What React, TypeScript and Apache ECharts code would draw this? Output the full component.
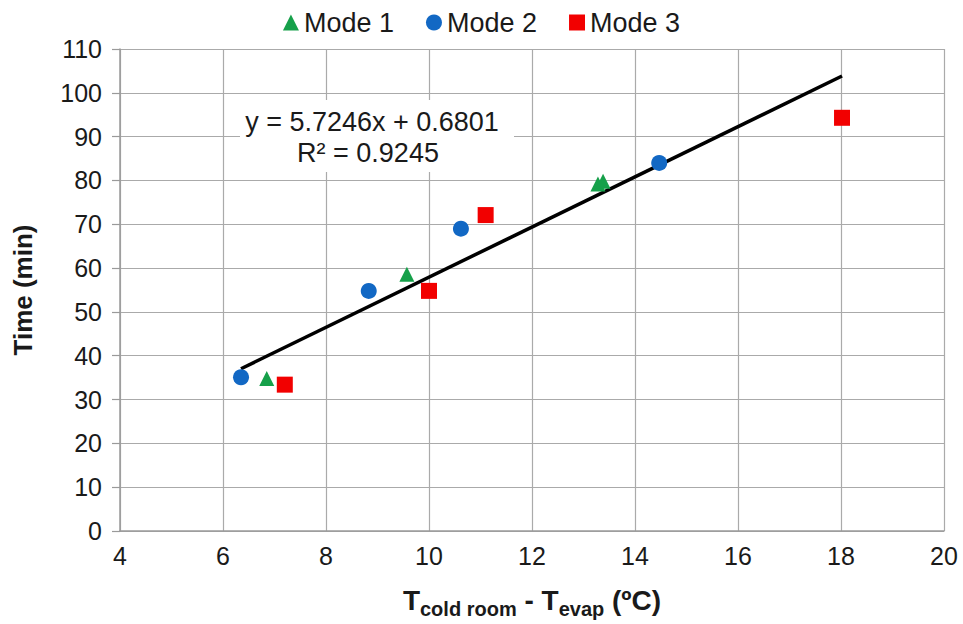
import React, { useEffect, useRef } from "react";
import * as echarts from "echarts";

const mode1X = [6.85, 9.57, 13.28, 13.38];
const mode1Y = [34.8, 58.6, 79.2, 79.8];
const mode2X = [6.35, 8.83, 10.62, 14.47];
const mode2Y = [35.1, 54.8, 69.0, 84.0];
const mode3X = [7.2, 10.0, 11.1, 18.02];
const mode3Y = [33.4, 54.8, 72.1, 94.3];
const seriesNames = ["Mode 1", "Mode 2", "Mode 3"];
const trendSlope = 5.7246;
const trendIntercept = 0.6801;
const trendR2 = 0.9245;
const xTicks = { min: 4, max: 20, interval: 2 };
const yTicks = { min: 0, max: 110, interval: 10 };

const FONT = "'Liberation Sans', Arial, sans-serif";

export default function App() {
  const ref = useRef<HTMLDivElement>(null);
  useEffect(() => {
    if (!ref.current) return;
    const chart = echarts.init(ref.current, undefined, { renderer: "svg" });
    const pairs = (xs: number[], ys: number[]) => xs.map((x, i) => [x, ys[i]]);
    const allX = [...mode1X, ...mode2X, ...mode3X];
    const xMin = Math.min(...allX);
    const xMax = Math.max(...allX);
    const trend = [
      [xMin, trendSlope * xMin + trendIntercept],
      [xMax, trendSlope * xMax + trendIntercept],
    ];
    chart.setOption({
      animation: false,
      backgroundColor: "#ffffff",
      textStyle: { fontFamily: FONT },
      grid: { left: 120, right: 19, top: 49, bottom: 92 },
      legend: {
        data: seriesNames,
        top: 4,
        left: "center",
        itemGap: 32,
        itemWidth: 16,
        itemHeight: 16,
        textStyle: { fontSize: 27, color: "#1a1a1a", fontFamily: FONT },
      },
      xAxis: {
        type: "value",
        min: xTicks.min,
        max: xTicks.max,
        interval: xTicks.interval,
        axisLine: { show: true, lineStyle: { color: "#9a9a9a", width: 1.5 } },
        axisTick: { show: false },
        splitLine: { show: true, lineStyle: { color: "#aaaaaa", width: 1.2 } },
        axisLabel: { fontSize: 25, color: "#1a1a1a", margin: 12, fontFamily: FONT },
        name: "{b|T}{s|cold room}{b| - T}{s|evap}{b| (ºC)}",
        nameLocation: "middle",
        nameGap: 55,
        nameTextStyle: {
          rich: {
            b: { fontSize: 28, fontWeight: "bold", color: "#1a1a1a", fontFamily: FONT, verticalAlign: "bottom" },
            s: { fontSize: 20, fontWeight: "bold", color: "#1a1a1a", fontFamily: FONT, verticalAlign: "bottom", padding: [0, 0, -5, 0] },
          },
        },
      },
      yAxis: {
        type: "value",
        min: yTicks.min,
        max: yTicks.max,
        interval: yTicks.interval,
        axisLine: { show: true, lineStyle: { color: "#9a9a9a", width: 1.5 } },
        axisTick: { show: true, length: 8, lineStyle: { color: "#9a9a9a", width: 1.2 } },
        splitLine: { show: true, lineStyle: { color: "#aaaaaa", width: 1.2 } },
        axisLabel: { fontSize: 25, color: "#1a1a1a", margin: 18, fontFamily: FONT },
        name: "Time (min)",
        nameLocation: "middle",
        nameGap: 84,
        nameTextStyle: { fontSize: 26, fontWeight: "bold", color: "#1a1a1a", fontFamily: FONT },
      },
      graphic: [
        {
          type: "rect",
          shape: { x: 240, y: 100, width: 274, height: 72 },
          style: { fill: "#ffffff" },
          z: 10,
        },
        {
          type: "text",
          x: 372,
          y: 122,
          z: 11,
          style: {
            text: `y = ${trendSlope}x + ${trendIntercept}`,
            fontSize: 27,
            fontFamily: FONT,
            fill: "#1a1a1a",
            align: "center",
            verticalAlign: "middle",
          },
        },
        {
          type: "text",
          x: 368,
          y: 153,
          z: 11,
          style: {
            text: `R² = ${trendR2}`,
            fontSize: 27,
            fontFamily: FONT,
            fill: "#1a1a1a",
            align: "center",
            verticalAlign: "middle",
          },
        },
      ],
      series: [
        {
          name: "Trend",
          type: "line",
          data: trend,
          symbol: "none",
          lineStyle: { color: "#000000", width: 3.5 },
          z: 3,
        },
        {
          name: seriesNames[0],
          type: "scatter",
          data: pairs(mode1X, mode1Y),
          symbol: "triangle",
          symbolSize: 15,
          itemStyle: { color: "#16a04a", opacity: 1 },
          z: 4,
        },
        {
          name: seriesNames[1],
          type: "scatter",
          data: pairs(mode2X, mode2Y),
          symbol: "circle",
          symbolSize: 16,
          itemStyle: { color: "#1268c4", opacity: 1 },
          z: 4,
        },
        {
          name: seriesNames[2],
          type: "scatter",
          data: pairs(mode3X, mode3Y),
          symbol: "rect",
          symbolSize: 16,
          itemStyle: { color: "#f20000", opacity: 1 },
          z: 4,
        },
      ],
    });
    return () => chart.dispose();
  }, []);
  return <div ref={ref} style={{ width: 963, height: 624, position: "absolute", left: 0, top: 0 }} />;
}
